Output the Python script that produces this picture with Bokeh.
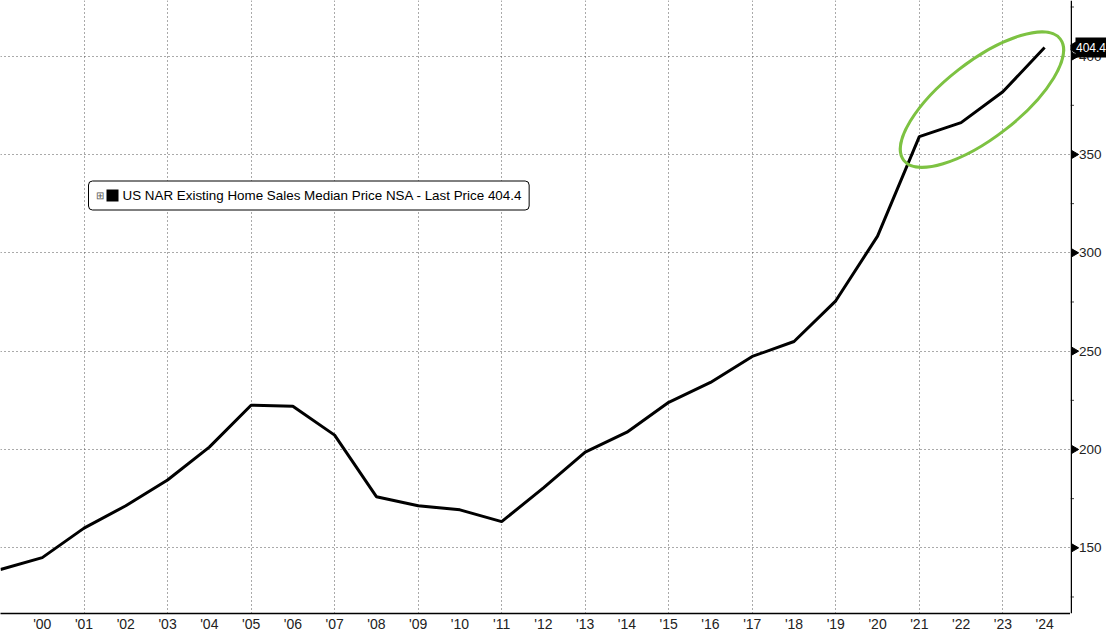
import math
from bokeh.plotting import figure
from bokeh.layouts import row
from bokeh.models import (FixedTicker, SingleIntervalTicker, Label, Range1d, Grid,
                          BoxAnnotation, Span)
from bokeh.core.properties import value
from bokeh.embed import file_html
from bokeh.resources import INLINE

# ---- data ----
years = list(range(1999, 2025))
prices = [139.0, 145.0, 160.0, 171.4, 184.5, 201.2, 222.5, 222.0, 207.3, 176.0,
          171.4, 169.3, 163.3, 180.5, 198.7, 208.8, 224.0, 234.1, 247.3, 254.9,
          275.6, 308.5, 359.1, 366.2, 381.9, 404.4]
tick_years = list(range(2000, 2025))
tick_labels = ["'%02d" % (y % 100) for y in tick_years]
grid_years = list(range(1999, 2025, 2))
y_ticks = [150, 200, 250, 300, 350, 400]
y_tick_labels = [str(v) for v in y_ticks]
y_minor = [125, 175, 225, 275, 325, 375, 425]
legend_text = "US NAR Existing Home Sales Median Price NSA - Last Price 404.4"
last_label = "404.4"
highlight_years = years[-4:]
highlight_vals = prices[-4:]

FONT = "Liberation Sans"
X0, X1 = 1999.0, 2024.62
Y0, Y1 = 116.6, 428.3
H = 634
BOTTOM = 18
MAIN_W = 1070
SIDE_W = 36

# ---------------- main plot ----------------
p = figure(width=MAIN_W, height=H, x_range=Range1d(X0, X1), y_range=Range1d(Y0, Y1),
           y_axis_location=None, output_backend="svg", toolbar_location=None,
           min_border_left=0, min_border_top=0, min_border_right=0,
           min_border_bottom=BOTTOM,
           background_fill_color="white", border_fill_color="white",
           outline_line_color=None)

xa = p.xaxis[0]
xa.ticker = FixedTicker(ticks=tick_years)
xa.major_label_overrides = {y: l for y, l in zip(tick_years, tick_labels)}
xa.major_tick_out = 0
xa.major_tick_in = 0
xa.minor_tick_out = 0
xa.minor_tick_in = 0
xa.axis_line_color = "black"
xa.axis_line_width = 1.5
xa.major_label_text_font = FONT
xa.major_label_text_font_size = "14px"
xa.major_label_text_color = "#222222"
xa.major_label_standoff = 2

# grids
p.center = [c for c in p.center if not (isinstance(c, Grid) and c.dimension == 1)]
p.xgrid.ticker = FixedTicker(ticks=grid_years)
p.add_layout(Grid(dimension=1, ticker=FixedTicker(ticks=y_ticks)))
for g in (p.xgrid[0], p.ygrid[0]):
    g.grid_line_color = "#555555"
    g.grid_line_dash = "1 3"
    g.grid_line_width = 1

# series
p.line(years, prices, line_color="black", line_width=3)

# highlight ellipse around the last four years
cx = sum(highlight_years) / len(highlight_years)
cy = sum(highlight_vals) / len(highlight_vals)
p.ellipse(x=[cx], y=[cy], width=[198], height=[76], width_units="screen",
          height_units="screen", angle=0.66, fill_color=None,
          line_color="#7dc242", line_width=3)

# legend box
LEG_Y = 418
p.add_layout(Label(x=88, y=LEG_Y, x_units="screen", y_units="screen", text=legend_text,
                   text_font=FONT, text_font_size="13.4px", text_color="black",
                   text_baseline="middle", text_align="left",
                   background_fill_color="white", border_line_color="black",
                   border_line_width=1, border_radius=4,
                   padding=dict(left=34, right=7, top=7, bottom=7)))
p.add_layout(BoxAnnotation(left=106, right=118, bottom=LEG_Y - 6, top=LEG_Y + 6,
                           left_units="screen", right_units="screen",
                           bottom_units="screen", top_units="screen",
                           fill_color="black", fill_alpha=1, line_color=None))
p.add_layout(Label(x=95, y=LEG_Y, x_units="screen", y_units="screen", text="\u229e",
                   text_font_size="10px", text_color="#555555", text_baseline="middle",
                   text_align="left"))

# ---------------- right value axis panel ----------------
q = figure(width=SIDE_W, height=H, x_range=Range1d(0, SIDE_W), y_range=p.y_range,
           x_axis_location=None, y_axis_location=None, output_backend="svg",
           toolbar_location=None, min_border_left=0, min_border_top=0,
           min_border_right=0, min_border_bottom=BOTTOM,
           background_fill_color="white", border_fill_color="white",
           outline_line_color=None)
q.grid.visible = False

q.add_layout(Span(location=0.75, dimension="height", line_color="black", line_width=1.5))
# minor ticks
q.segment(x0=[0] * len(y_minor), y0=y_minor, x1=[3.5] * len(y_minor), y1=y_minor,
          line_color="#444444", line_width=1)
# major ticks as right-pointing triangles
q.scatter(x=[3.5] * len(y_ticks), y=y_ticks, marker="triangle", size=8,
          angle=-math.pi / 2, fill_color="black", line_color="black")
q.text(x=[8.5] * len(y_ticks), y=y_ticks, text=y_tick_labels,
       text_font=value(FONT), text_font_size="13.5px", text_color="#222222",
       text_baseline="middle", text_align="left")

# last price tag
q.scatter(x=[4], y=[prices[-1]], marker="triangle", size=14, angle=math.pi / 2,
          fill_color="black", line_color="black")
q.rect(x=[(5 + SIDE_W) / 2], y=[prices[-1]], width=[SIDE_W - 5], height=[20],
       height_units="screen", fill_color="black", line_color=None)
q.text(x=[5.5], y=[prices[-1]], text=[last_label], text_font=value(FONT),
       text_font_size="12px", text_color="white", text_baseline="middle",
       text_align="left")

layout = row(p, q)
open("out.html", "w").write(file_html(layout, INLINE))
